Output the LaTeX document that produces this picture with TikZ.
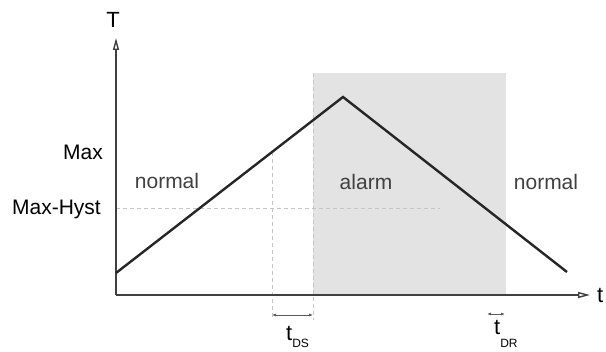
\documentclass[tikz,border=0pt]{standalone}
\usepackage{fontspec}
\setmainfont{Liberation Sans}
\usetikzlibrary{arrows.meta}

\begin{document}
\begin{tikzpicture}[x=1pt, y=-1pt, >={Triangle[open,length=12pt,width=6pt]},
    lbl/.style={font=\fontsize{21}{25}\selectfont, inner sep=0pt},
    zone/.style={lbl, text=black!75},
    guide/.style={gray!45, line width=0.6pt, dash pattern=on 4pt off 3pt},
    dim/.style={{Latex[length=4pt,width=3pt]}-{Latex[length=4pt,width=3pt]}, gray!70!black, line width=0.7pt}]
    \useasboundingbox (0,0) rectangle (606,352);

    % Alarm zone
    \fill[gray!22] (313,73) rectangle (506,295);

    % Points
    \coordinate (O) at (116,295);
    \coordinate (ytop) at (116,38);
    \coordinate (xend) at (590,295);
    \coordinate (start) at (116,273);
    \coordinate (peak) at (343,97);
    \coordinate (stop) at (567,272);
    \coordinate (hyst0) at (116,208);
    \coordinate (hyst1) at (440,208);
    \coordinate (ds0) at (272,152);
    \coordinate (ds1) at (272,320);
    \coordinate (as0) at (313,73);
    \coordinate (as1) at (313,320);

    % Dashed guides
    \draw[guide] (hyst0) -- (hyst1);
    \draw[guide] (ds0) -- (ds1);
    \draw[guide] (as0) -- (as1);

    % Axes
    \draw[->, gray!50!black, line width=1.4pt] (O) -- (ytop);
    \draw[->, gray!50!black, line width=1.4pt] (O) -- (xend);

    % Temperature
    \draw[line width=2.4pt, black!85] (start) -- (peak) -- (stop);

    % Delays
    \coordinate (dsa) at (272,315);
    \coordinate (dsb) at (313,315);
    \coordinate (dra) at (487,314);
    \coordinate (drb) at (505,314);
    \draw[dim] (dsa) -- (dsb);
    \draw[dim] (dra) -- (drb);

    % Labels
    \node[lbl, font=\fontsize{22}{26}\selectfont, anchor=base] (lT) at (113,28) {T};
    \node[lbl, font=\fontsize{22}{26}\selectfont, anchor=base west] (lt) at (597,303) {t};
    \node[lbl, anchor=base east] (lmax) at (103,160) {Max};
    \node[lbl, anchor=base east] (lhyst) at (101,215) {Max-Hyst};
    \node[zone, anchor=base] (lnorm1) at (167,189) {normal};
    \node[zone, anchor=base] (lalarm) at (366,190) {alarm};
    \node[zone, anchor=base] (lnorm2) at (546,190) {normal};
    \node[lbl, font=\fontsize{22}{26}\selectfont, anchor=base west] (lds) at (286,341)
        {t\raisebox{-7pt}{\fontsize{12}{14}\selectfont DS}};
    \node[lbl, font=\fontsize{22}{26}\selectfont, anchor=base west] (ldr) at (494,335)
        {t\raisebox{-13pt}{\fontsize{12}{14}\selectfont DR}};
\end{tikzpicture}
\end{document}
